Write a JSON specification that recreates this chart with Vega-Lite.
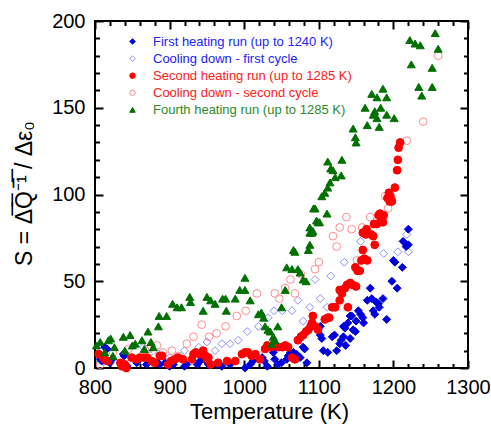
{
  "$schema": "https://vega.github.io/schema/vega-lite/v6.json",
  "width": 373,
  "height": 347,
  "autosize": {"type": "none"},
  "padding": {"left": 95, "top": 21, "right": 23, "bottom": 58},
  "config": {
    "font": "Liberation Sans",
    "view": {"stroke": "black", "strokeWidth": 2},
    "axis": {"grid": false, "domain": false, "tickColor": "black", "tickWidth": 2, "labelColor": "black", "titleColor": "black", "titleFontWeight": "normal"},
    "legend": {"orient": "none", "legendX": 31, "legendY": 14, "labelFontSize": 13, "labelFont": "Liberation Sans", "labelLimit": 400, "symbolSize": 30, "labelOffset": 14, "rowPadding": 3.1, "padding": 0, "symbolStrokeWidth": 1}
  },
  "datasets": {
    "names": [
      {"k": 1, "series": "First heating run (up to 1240 K)"},
      {"k": 2, "series": "Cooling down - first cycle"},
      {"k": 3, "series": "Second heating run (up to 1285 K)"},
      {"k": 4, "series": "Cooling down - second cycle"},
      {"k": 5, "series": "Fourth heating run (up to 1285 K)"}
    ],
    "pts": [
      {"k":2,"T":865,"S":12},{"k":2,"T":872,"S":8},{"k":2,"T":885,"S":8},{"k":2,"T":900,"S":6},{"k":2,"T":914,"S":6},{"k":2,"T":920,"S":10},{"k":2,"T":939,"S":12},{"k":2,"T":950,"S":15},{"k":2,"T":961,"S":10},{"k":2,"T":970,"S":14},{"k":2,"T":981,"S":14},{"k":2,"T":992,"S":16},{"k":2,"T":1004,"S":21},{"k":2,"T":1019,"S":24},{"k":2,"T":1032,"S":29},{"k":2,"T":1040,"S":33},{"k":2,"T":1051,"S":33},{"k":2,"T":1064,"S":33},{"k":2,"T":1072,"S":39},{"k":2,"T":1079,"S":27},{"k":2,"T":1088,"S":35},{"k":2,"T":1095,"S":51},{"k":2,"T":1102,"S":40},{"k":2,"T":1111,"S":35},{"k":2,"T":1116,"S":53},{"k":2,"T":1134,"S":61},{"k":2,"T":1156,"S":73},{"k":2,"T":1187,"S":66},{"k":2,"T":1206,"S":67},{"k":2,"T":1218,"S":77},{"k":2,"T":1220,"S":67},
      {"k":4,"T":807,"S":2},{"k":4,"T":812,"S":4},{"k":4,"T":824,"S":9},{"k":4,"T":845,"S":11},{"k":4,"T":871,"S":11},{"k":4,"T":876,"S":12},{"k":4,"T":883,"S":13},{"k":4,"T":891,"S":9},{"k":4,"T":903,"S":10},{"k":4,"T":912,"S":7},{"k":4,"T":923,"S":14},{"k":4,"T":932,"S":18},{"k":4,"T":943,"S":25},{"k":4,"T":953,"S":18},{"k":4,"T":963,"S":20},{"k":4,"T":975,"S":24},{"k":4,"T":990,"S":30},{"k":4,"T":1002,"S":33},{"k":4,"T":1017,"S":43},{"k":4,"T":1041,"S":43},{"k":4,"T":1047,"S":40},{"k":4,"T":1055,"S":46},{"k":4,"T":1062,"S":51},{"k":4,"T":1068,"S":43},{"k":4,"T":1076,"S":54},{"k":4,"T":1095,"S":57},{"k":4,"T":1100,"S":61},{"k":4,"T":1119,"S":76},{"k":4,"T":1124,"S":70},{"k":4,"T":1128,"S":81},{"k":4,"T":1137,"S":87},{"k":4,"T":1144,"S":80},{"k":4,"T":1151,"S":62},{"k":4,"T":1158,"S":81},{"k":4,"T":1169,"S":87},{"k":4,"T":1189,"S":99},{"k":4,"T":1193,"S":92},{"k":4,"T":1198,"S":97},{"k":4,"T":1218,"S":131},{"k":4,"T":1240,"S":142},{"k":4,"T":1260,"S":180},
      {"k":1,"T":807,"S":5},{"k":1,"T":809,"S":4},{"k":1,"T":813,"S":12},{"k":1,"T":816,"S":11},{"k":1,"T":820,"S":3},{"k":1,"T":823,"S":5},{"k":1,"T":838,"S":8},{"k":1,"T":839,"S":7},{"k":1,"T":840,"S":2},{"k":1,"T":843,"S":1},{"k":1,"T":856,"S":3},{"k":1,"T":869,"S":2},{"k":1,"T":884,"S":3},{"k":1,"T":887,"S":2},{"k":1,"T":894,"S":3},{"k":1,"T":900,"S":1},{"k":1,"T":905,"S":2},{"k":1,"T":920,"S":1},{"k":1,"T":923,"S":2},{"k":1,"T":937,"S":2},{"k":1,"T":941,"S":4},{"k":1,"T":943,"S":5},{"k":1,"T":947,"S":6},{"k":1,"T":949,"S":4},{"k":1,"T":952,"S":2},{"k":1,"T":963,"S":2},{"k":1,"T":970,"S":1},{"k":1,"T":981,"S":2},{"k":1,"T":1001,"S":0},{"k":1,"T":1008,"S":2},{"k":1,"T":1012,"S":4},{"k":1,"T":1024,"S":6},{"k":1,"T":1027,"S":4},{"k":1,"T":1031,"S":1},{"k":1,"T":1039,"S":9},{"k":1,"T":1041,"S":5},{"k":1,"T":1045,"S":2},{"k":1,"T":1050,"S":3},{"k":1,"T":1057,"S":5},{"k":1,"T":1059,"S":7},{"k":1,"T":1062,"S":9},{"k":1,"T":1066,"S":9},{"k":1,"T":1070,"S":8},{"k":1,"T":1075,"S":6},{"k":1,"T":1079,"S":12},{"k":1,"T":1081,"S":11},{"k":1,"T":1084,"S":3},{"k":1,"T":1102,"S":24},{"k":1,"T":1102,"S":19},{"k":1,"T":1104,"S":17},{"k":1,"T":1106,"S":10},{"k":1,"T":1112,"S":9},{"k":1,"T":1118,"S":18},{"k":1,"T":1121,"S":19},{"k":1,"T":1124,"S":10},{"k":1,"T":1128,"S":14},{"k":1,"T":1130,"S":16},{"k":1,"T":1133,"S":24},{"k":1,"T":1133,"S":18},{"k":1,"T":1135,"S":23},{"k":1,"T":1136,"S":13},{"k":1,"T":1139,"S":26},{"k":1,"T":1142,"S":30},{"k":1,"T":1142,"S":17},{"k":1,"T":1144,"S":30},{"k":1,"T":1146,"S":22},{"k":1,"T":1149,"S":21},{"k":1,"T":1150,"S":27},{"k":1,"T":1153,"S":33},{"k":1,"T":1156,"S":31},{"k":1,"T":1159,"S":29},{"k":1,"T":1160,"S":26},{"k":1,"T":1165,"S":39},{"k":1,"T":1169,"S":46},{"k":1,"T":1171,"S":40},{"k":1,"T":1173,"S":33},{"k":1,"T":1175,"S":31},{"k":1,"T":1177,"S":38},{"k":1,"T":1180,"S":37},{"k":1,"T":1181,"S":35},{"k":1,"T":1186,"S":40},{"k":1,"T":1191,"S":28},{"k":1,"T":1198,"S":50},{"k":1,"T":1200,"S":62},{"k":1,"T":1202,"S":61},{"k":1,"T":1205,"S":46},{"k":1,"T":1212,"S":58},{"k":1,"T":1213,"S":73},{"k":1,"T":1217,"S":70},{"k":1,"T":1220,"S":80},{"k":1,"T":1220,"S":71},
      {"k":3,"T":805,"S":8},{"k":3,"T":811,"S":6},{"k":3,"T":813,"S":5},{"k":3,"T":817,"S":4},{"k":3,"T":834,"S":3},{"k":3,"T":836,"S":1},{"k":3,"T":840,"S":2},{"k":3,"T":842,"S":0},{"k":3,"T":849,"S":6},{"k":3,"T":855,"S":5},{"k":3,"T":860,"S":6},{"k":3,"T":865,"S":6},{"k":3,"T":870,"S":6},{"k":3,"T":876,"S":4},{"k":3,"T":880,"S":3},{"k":3,"T":887,"S":7},{"k":3,"T":890,"S":7},{"k":3,"T":898,"S":2},{"k":3,"T":902,"S":4},{"k":3,"T":907,"S":5},{"k":3,"T":911,"S":6},{"k":3,"T":918,"S":5},{"k":3,"T":930,"S":5},{"k":3,"T":932,"S":8},{"k":3,"T":935,"S":9},{"k":3,"T":940,"S":8},{"k":3,"T":945,"S":10},{"k":3,"T":948,"S":7},{"k":3,"T":950,"S":5},{"k":3,"T":952,"S":6},{"k":3,"T":955,"S":2},{"k":3,"T":965,"S":3},{"k":3,"T":977,"S":4},{"k":3,"T":988,"S":4},{"k":3,"T":997,"S":8},{"k":3,"T":1001,"S":9},{"k":3,"T":1005,"S":9},{"k":3,"T":1010,"S":7},{"k":3,"T":1015,"S":8},{"k":3,"T":1021,"S":5},{"k":3,"T":1028,"S":11},{"k":3,"T":1031,"S":13},{"k":3,"T":1036,"S":12},{"k":3,"T":1042,"S":13},{"k":3,"T":1046,"S":12},{"k":3,"T":1051,"S":12},{"k":3,"T":1055,"S":13},{"k":3,"T":1059,"S":12},{"k":3,"T":1064,"S":6},{"k":3,"T":1068,"S":5},{"k":3,"T":1072,"S":16},{"k":3,"T":1076,"S":18},{"k":3,"T":1079,"S":19},{"k":3,"T":1083,"S":21},{"k":3,"T":1086,"S":22},{"k":3,"T":1089,"S":24},{"k":3,"T":1091,"S":26},{"k":3,"T":1092,"S":30},{"k":3,"T":1095,"S":24},{"k":3,"T":1099,"S":22},{"k":3,"T":1108,"S":28},{"k":3,"T":1112,"S":29},{"k":3,"T":1114,"S":29},{"k":3,"T":1118,"S":35},{"k":3,"T":1122,"S":35},{"k":3,"T":1128,"S":39},{"k":3,"T":1128,"S":45},{"k":3,"T":1131,"S":43},{"k":3,"T":1135,"S":46},{"k":3,"T":1138,"S":48},{"k":3,"T":1139,"S":35},{"k":3,"T":1142,"S":49},{"k":3,"T":1145,"S":48},{"k":3,"T":1150,"S":47},{"k":3,"T":1149,"S":58},{"k":3,"T":1152,"S":56},{"k":3,"T":1155,"S":56},{"k":3,"T":1157,"S":62},{"k":3,"T":1159,"S":68},{"k":3,"T":1161,"S":63},{"k":3,"T":1165,"S":62},{"k":3,"T":1159,"S":78},{"k":3,"T":1163,"S":77},{"k":3,"T":1164,"S":80},{"k":3,"T":1170,"S":77},{"k":3,"T":1173,"S":76},{"k":3,"T":1175,"S":71},{"k":3,"T":1174,"S":83},{"k":3,"T":1178,"S":83},{"k":3,"T":1180,"S":88},{"k":3,"T":1182,"S":89},{"k":3,"T":1184,"S":86},{"k":3,"T":1186,"S":84},{"k":3,"T":1187,"S":88},{"k":3,"T":1192,"S":98},{"k":3,"T":1194,"S":101},{"k":3,"T":1195,"S":96},{"k":3,"T":1196,"S":99},{"k":3,"T":1198,"S":96},{"k":3,"T":1202,"S":104},{"k":3,"T":1205,"S":114},{"k":3,"T":1206,"S":120},{"k":3,"T":1207,"S":127},{"k":3,"T":1209,"S":130},
      {"k":5,"T":802,"S":13},{"k":5,"T":807,"S":15},{"k":5,"T":813,"S":9},{"k":5,"T":818,"S":16},{"k":5,"T":821,"S":17},{"k":5,"T":824,"S":7},{"k":5,"T":826,"S":12},{"k":5,"T":838,"S":18},{"k":5,"T":840,"S":10},{"k":5,"T":847,"S":19},{"k":5,"T":850,"S":13},{"k":5,"T":854,"S":14},{"k":5,"T":863,"S":16},{"k":5,"T":866,"S":11},{"k":5,"T":871,"S":21},{"k":5,"T":875,"S":15},{"k":5,"T":878,"S":12},{"k":5,"T":885,"S":24},{"k":5,"T":886,"S":30},{"k":5,"T":896,"S":30},{"k":5,"T":904,"S":37},{"k":5,"T":910,"S":35},{"k":5,"T":916,"S":35},{"k":5,"T":927,"S":41},{"k":5,"T":928,"S":38},{"k":5,"T":945,"S":33},{"k":5,"T":950,"S":41},{"k":5,"T":955,"S":39},{"k":5,"T":961,"S":37},{"k":5,"T":971,"S":40},{"k":5,"T":975,"S":40},{"k":5,"T":976,"S":33},{"k":5,"T":988,"S":40},{"k":5,"T":994,"S":45},{"k":5,"T":1001,"S":52},{"k":5,"T":1001,"S":45},{"k":5,"T":1008,"S":39},{"k":5,"T":1019,"S":31},{"k":5,"T":1023,"S":32},{"k":5,"T":1026,"S":29},{"k":5,"T":1028,"S":24},{"k":5,"T":1032,"S":22},{"k":5,"T":1035,"S":21},{"k":5,"T":1037,"S":14},{"k":5,"T":1039,"S":18},{"k":5,"T":1041,"S":16},{"k":5,"T":1045,"S":24},{"k":5,"T":1050,"S":35},{"k":5,"T":1055,"S":45},{"k":5,"T":1057,"S":58},{"k":5,"T":1064,"S":57},{"k":5,"T":1066,"S":68},{"k":5,"T":1068,"S":67},{"k":5,"T":1072,"S":57},{"k":5,"T":1075,"S":55},{"k":5,"T":1079,"S":51},{"k":5,"T":1083,"S":50},{"k":5,"T":1086,"S":68},{"k":5,"T":1088,"S":71},{"k":5,"T":1088,"S":78},{"k":5,"T":1088,"S":81},{"k":5,"T":1091,"S":78},{"k":5,"T":1092,"S":79},{"k":5,"T":1093,"S":92},{"k":5,"T":1095,"S":92},{"k":5,"T":1097,"S":85},{"k":5,"T":1099,"S":84},{"k":5,"T":1101,"S":84},{"k":5,"T":1104,"S":99},{"k":5,"T":1108,"S":101},{"k":5,"T":1111,"S":89},{"k":5,"T":1112,"S":104},{"k":5,"T":1112,"S":119},{"k":5,"T":1115,"S":107},{"k":5,"T":1116,"S":115},{"k":5,"T":1119,"S":114},{"k":5,"T":1122,"S":110},{"k":5,"T":1130,"S":111},{"k":5,"T":1131,"S":120},{"k":5,"T":1146,"S":138},{"k":5,"T":1149,"S":133},{"k":5,"T":1150,"S":130},{"k":5,"T":1162,"S":150},{"k":5,"T":1165,"S":140},{"k":5,"T":1171,"S":158},{"k":5,"T":1173,"S":146},{"k":5,"T":1175,"S":148},{"k":5,"T":1178,"S":156},{"k":5,"T":1178,"S":144},{"k":5,"T":1181,"S":139},{"k":5,"T":1183,"S":150},{"k":5,"T":1186,"S":161},{"k":5,"T":1191,"S":156},{"k":5,"T":1191,"S":146},{"k":5,"T":1201,"S":144},{"k":5,"T":1222,"S":189},{"k":5,"T":1224,"S":175},{"k":5,"T":1229,"S":187},{"k":5,"T":1234,"S":162},{"k":5,"T":1236,"S":186},{"k":5,"T":1238,"S":157},{"k":5,"T":1252,"S":173},{"k":5,"T":1252,"S":162},{"k":5,"T":1256,"S":193},{"k":5,"T":1260,"S":184}
    ]
  },
  "resolve": {"axis": {"x": "independent", "y": "independent"}},
  "layer": [
    {
      "data": {"name": "pts"},
      "transform": [{"lookup": "k", "from": {"data": {"name": "names"}, "key": "k", "fields": ["series"]}}],
      "mark": {"type": "point", "strokeWidth": 1, "opacity": 1, "clip": false},
      "encoding": {
        "x": {"field": "T", "type": "quantitative", "scale": {"domain": [800, 1300], "nice": false, "zero": false},
          "axis": {"orient": "bottom", "values": [800, 900, 1000, 1100, 1200, 1300], "format": "d", "tickSize": -8, "labelFontSize": 20, "labelPadding": 17, "labelFlush": false,
            "title": "Temperature (K)", "titleFontSize": 22, "titleX": 174, "titleY": 50, "titleBaseline": "alphabetic", "titleAnchor": null, "titleAlign": "center"}},
        "y": {"field": "S", "type": "quantitative", "scale": {"domain": [0, 200], "nice": false},
          "axis": {"orient": "left", "values": [0, 50, 100, 150, 200], "format": "d", "tickSize": -8, "labelFontSize": 20, "labelPadding": 18, "labelFlush": false,
            "title": "S = Δ̅Q̅⁻̅¹̅ / Δε₀", "titleFontSize": 23, "titleAngle": 270, "titleX": -64, "titleY": 172, "titleBaseline": "alphabetic", "titleAlign": "center", "titleAnchor": null}},
        "shape": {"field": "series", "type": "nominal",
          "scale": {"domain": ["First heating run (up to 1240 K)", "Cooling down - first cycle", "Second heating run (up to 1285 K)", "Cooling down - second cycle", "Fourth heating run (up to 1285 K)"],
            "range": ["diamond", "diamond", "circle", "circle", "triangle-up"]},
          "legend": {"title": null, "labelColor": {"expr": "indexof(lower(datum.value), 'first') >= 0 ? '#2222ff' : (indexof(datum.value, 'Fourth') >= 0 ? '#2a8a2a' : '#ff2020')"}}},
        "fill": {"field": "series", "type": "nominal",
          "scale": {"domain": ["First heating run (up to 1240 K)", "Cooling down - first cycle", "Second heating run (up to 1285 K)", "Cooling down - second cycle", "Fourth heating run (up to 1285 K)"],
            "range": ["#0000dd", "transparent", "#ff0000", "transparent", "#007000"]},
          "legend": {"title": null, "labelColor": {"expr": "indexof(lower(datum.value), 'first') >= 0 ? '#2222ff' : (indexof(datum.value, 'Fourth') >= 0 ? '#2a8a2a' : '#ff2020')"}}},
        "stroke": {"field": "series", "type": "nominal",
          "scale": {"domain": ["First heating run (up to 1240 K)", "Cooling down - first cycle", "Second heating run (up to 1285 K)", "Cooling down - second cycle", "Fourth heating run (up to 1285 K)"],
            "range": ["#0000dd", "#8c8cff", "#ff0000", "#ff8c8c", "#007000"]},
          "legend": {"title": null, "labelColor": {"expr": "indexof(lower(datum.value), 'first') >= 0 ? '#2222ff' : (indexof(datum.value, 'Fourth') >= 0 ? '#2a8a2a' : '#ff2020')"}}},
        "size": {"field": "series", "type": "ordinal", "legend": null,
          "scale": {"domain": ["Fourth heating run (up to 1285 K)", "First heating run (up to 1240 K)", "Cooling down - first cycle", "Second heating run (up to 1285 K)", "Cooling down - second cycle"],
            "range": [64, 60, 60, 18, 18]}}
      }
    },
    {
      "data": {"values": [{"T": 800, "S": 0}]},
      "mark": {"type": "point", "opacity": 0},
      "encoding": {
        "x": {"field": "T", "type": "quantitative", "axis": {"orient": "bottom", "values": [820, 840, 860, 880, 920, 940, 960, 980, 1020, 1040, 1060, 1080, 1120, 1140, 1160, 1180, 1220, 1240, 1260, 1280], "tickSize": -4.5, "labels": false, "title": null}},
        "y": {"field": "S", "type": "quantitative", "axis": {"orient": "left", "values": [10, 20, 30, 40, 60, 70, 80, 90, 110, 120, 130, 140, 160, 170, 180, 190], "tickSize": -4.5, "labels": false, "title": null}}
      }
    },
    {
      "data": {"values": [{"T": 800, "S": 0}]},
      "mark": {"type": "point", "opacity": 0},
      "encoding": {
        "x": {"field": "T", "type": "quantitative", "axis": {"orient": "top", "values": [800, 900, 1000, 1100, 1200, 1300], "tickSize": -8, "labels": false, "title": null}},
        "y": {"field": "S", "type": "quantitative", "axis": {"orient": "right", "values": [0, 50, 100, 150, 200], "tickSize": -8, "labels": false, "title": null}}
      }
    },
    {
      "data": {"values": [{"T": 800, "S": 0}]},
      "mark": {"type": "point", "opacity": 0},
      "encoding": {
        "x": {"field": "T", "type": "quantitative", "axis": {"orient": "top", "values": [820, 840, 860, 880, 920, 940, 960, 980, 1020, 1040, 1060, 1080, 1120, 1140, 1160, 1180, 1220, 1240, 1260, 1280], "tickSize": -4.5, "labels": false, "title": null}},
        "y": {"field": "S", "type": "quantitative", "axis": {"orient": "right", "values": [10, 20, 30, 40, 60, 70, 80, 90, 110, 120, 130, 140, 160, 170, 180, 190], "tickSize": -4.5, "labels": false, "title": null}}
      }
    }
  ]
}
